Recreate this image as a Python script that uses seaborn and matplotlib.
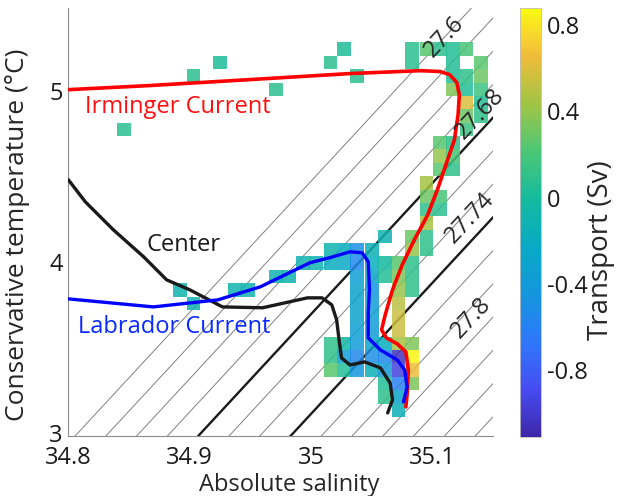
import numpy as np
import matplotlib
matplotlib.use("Agg")
import matplotlib.pyplot as plt
from matplotlib.colors import LinearSegmentedColormap, Normalize
from matplotlib.ticker import MultipleLocator, FixedLocator, FuncFormatter
from matplotlib.transforms import ScaledTranslation
import seaborn as sns

# ---------------- data ----------------
# transport per T-S bin (bin centres), Sv
cell_sal = [
    # scattered warm bins
    34.846, 34.903, 34.925, 34.971, 35.016, 35.027, 35.038,
    # r28 .. r15 (Irminger cluster)
    35.083, 35.095, 35.106, 35.117, 35.128,
    35.083, 35.117, 35.140,
    35.117, 35.128, 35.140,
    35.117, 35.128, 35.140,
    35.128, 35.140,
    35.128, 35.140,
    35.128,
    35.106, 35.117,
    35.106, 35.117,
    35.106, 35.117,
    35.095,
    35.095, 35.106,
    35.095, 35.106,
    35.095,
    # r14 .. r1
    35.061, 35.083, 35.095,
    35.016, 35.027, 35.038, 35.050, 35.083, 35.095,
    34.993, 35.004, 35.016, 35.027, 35.038, 35.050, 35.061, 35.072, 35.083,
    34.971, 34.982, 35.038, 35.050, 35.061, 35.072, 35.083,
    34.892, 34.937, 34.948, 35.038, 35.050, 35.072, 35.083,
    34.903, 35.038, 35.050, 35.072,
    35.038, 35.050, 35.072,
    35.038, 35.050, 35.072,
    35.016, 35.027, 35.038, 35.050, 35.061, 35.072, 35.083,
    35.016, 35.027, 35.038, 35.050, 35.061, 35.072, 35.083,
    35.016, 35.027, 35.038, 35.050, 35.061, 35.072, 35.083,
    35.061, 35.072, 35.083,
    35.061, 35.072,
    35.072,
]
cell_temp = [
    4.791, 5.103, 5.181, 5.025, 5.181, 5.260, 5.103,
    5.260, 5.260, 5.260, 5.260, 5.260,
    5.181, 5.181, 5.181,
    5.103, 5.103, 5.103,
    5.025, 5.025, 5.025,
    4.947, 4.947,
    4.869, 4.869,
    4.791,
    4.713, 4.713,
    4.635, 4.635,
    4.556, 4.556,
    4.478,
    4.400, 4.400,
    4.322, 4.322,
    4.244,
    4.166, 4.166, 4.166,
    4.088, 4.088, 4.088, 4.088, 4.088, 4.088,
    4.010, 4.010, 4.010, 4.010, 4.010, 4.010, 4.010, 4.010, 4.010,
    3.931, 3.931, 3.931, 3.931, 3.931, 3.931, 3.931,
    3.853, 3.853, 3.853, 3.853, 3.853, 3.853, 3.853,
    3.775, 3.775, 3.775, 3.775,
    3.697, 3.697, 3.697,
    3.619, 3.619, 3.619,
    3.541, 3.541, 3.541, 3.541, 3.541, 3.541, 3.541,
    3.463, 3.463, 3.463, 3.463, 3.463, 3.463, 3.463,
    3.385, 3.385, 3.385, 3.385, 3.385, 3.385, 3.385,
    3.306, 3.306, 3.306,
    3.228, 3.228,
    3.150,
]
cell_sv = [
    0.08, 0.08, 0.03, 0.08, 0.08, 0.03, 0.08,
    0.08, 0.25, 0.08, 0.05, 0.20,
    0.08, 0.05, 0.25,
    0.05, 0.10, 0.30,
    0.35, 0.05, 0.15,
    0.60, 0.05,
    0.30, 0.10,
    0.15,
    0.25, 0.10,
    0.40, 0.20,
    0.25, 0.10,
    0.45,
    0.30, 0.20,
    0.10, 0.08,
    0.45,
    -0.10, 0.30, 0.10,
    -0.10, -0.20, -0.50, -0.15, 0.40, 0.10,
    -0.10, -0.10, -0.20, -0.25, -0.55, -0.20, 0.00, 0.25, 0.10,
    -0.10, -0.10, -0.35, -0.30, 0.05, 0.35, 0.10,
    -0.10, -0.10, -0.10, -0.30, -0.45, 0.40, 0.10,
    -0.10, -0.30, -0.40, 0.50,
    -0.30, -0.35, 0.55,
    -0.35, -0.40, 0.55,
    0.10, -0.05, -0.40, -0.30, -0.20, 0.45, 0.35,
    0.10, -0.35, -0.55, -0.50, -0.55, -1.05, 0.85,
    0.25, 0.05, -0.45, -0.15, -0.40, -0.95, 0.65,
    0.05, -0.60, 0.35,
    0.10, -0.30,
    -0.15,
]
CELL_DS = 0.01128
CELL_DT = 0.0781

# mean profiles
irminger_sal = [34.800, 34.867, 34.950, 35.032, 35.090, 35.106, 35.114, 35.120, 35.122,
                35.121, 35.118, 35.111, 35.104, 35.096, 35.085, 35.075, 35.067, 35.061,
                35.058, 35.062, 35.071, 35.078, 35.080, 35.079, 35.078]
irminger_temp = [5.023, 5.047, 5.082, 5.117, 5.134, 5.129, 5.111, 5.064, 4.994,
                 4.877, 4.731, 4.585, 4.439, 4.292, 4.146, 4.000, 3.854, 3.708,
                 3.620, 3.573, 3.538, 3.491, 3.386, 3.240, 3.170]

labrador_sal = [34.800, 34.870, 34.923, 34.958, 34.999, 35.015, 35.032, 35.042, 35.047,
                35.048, 35.047, 35.047, 35.057, 35.071, 35.077, 35.079, 35.076]
labrador_temp = [3.801, 3.754, 3.795, 3.871, 4.012, 4.041, 4.076, 4.070, 4.018,
                 3.854, 3.719, 3.573, 3.503, 3.444, 3.386, 3.287, 3.199]

center_sal = [34.800, 34.814, 34.837, 34.862, 34.881, 34.900, 34.927, 34.960, 34.997,
              35.009, 35.017, 35.021, 35.023, 35.025, 35.032, 35.044, 35.057, 35.065,
              35.067, 35.063]
center_temp = [4.497, 4.368, 4.205, 4.047, 3.912, 3.854, 3.754, 3.749, 3.807,
               3.807, 3.766, 3.678, 3.561, 3.456, 3.415, 3.433, 3.398, 3.310,
               3.211, 3.135]

# density (sigma0) lines, linearised equation of state
SIG_REF, SAL_REF, TEMP_REF = 27.68, 34.907, 3.0
BETA, ALPHA = 0.789, 0.103
grey_levels = [27.60, 27.62, 27.64, 27.66, 27.70, 27.72, 27.76, 27.78, 27.80, 27.82, 27.84, 27.86]
black_levels = [27.68, 27.74]
level_labels = ["27.6", "27.68", "27.74", "27.8"]
label_sal = [35.110, 35.139, 35.131, 35.132]
label_temp = [5.333, 4.883, 4.275, 3.690]

cb_ticks = [-0.8, -0.4, 0, 0.4, 0.8]
SV_MIN, SV_MAX = -1.11, 0.88

# parula-like colormap
parula = LinearSegmentedColormap.from_list("parula", [
    (0.000, (0.2422, 0.1504, 0.6603)),
    (0.111, (0.2760, 0.3000, 0.9500)),
    (0.222, (0.1800, 0.4700, 0.9800)),
    (0.333, (0.0800, 0.5900, 0.8700)),
    (0.444, (0.0300, 0.6700, 0.7700)),
    (0.556, (0.0800, 0.7300, 0.6200)),
    (0.667, (0.3000, 0.7800, 0.4600)),
    (0.778, (0.6300, 0.7700, 0.2700)),
    (0.889, (0.9400, 0.7400, 0.2300)),
    (0.944, (0.9700, 0.8500, 0.1700)),
    (1.000, (0.9763, 0.9831, 0.0538)),
])

# ---------------- plot ----------------
sns.set_theme(style="white")
plt.rcParams["font.family"] = ["Open Sans", "DejaVu Sans"]
plt.rcParams["axes.unicode_minus"] = False
FS = 17

fig = plt.figure(figsize=(6.23, 4.96), dpi=100)
ax = fig.add_axes([68.3 / 623, 60 / 496, 425 / 623, 428 / 496])
cax = fig.add_axes([520 / 623, 59 / 496, 21 / 623, 429 / 496])

# density contours
sg, tg = np.meshgrid(np.linspace(34.75, 35.2, 300), np.linspace(2.9, 5.6, 300))
sigma = SIG_REF + BETA * (sg - SAL_REF) - ALPHA * (tg - TEMP_REF)
ax.contour(sg, tg, sigma, levels=grey_levels, colors="0.5", linewidths=0.7, zorder=1)
ax.contour(sg, tg, sigma, levels=black_levels, colors="k", linewidths=1.7, zorder=1)

# transport cells
norm = Normalize(SV_MIN, SV_MAX)
sal = np.array(cell_sal)
tmp = np.array(cell_temp)
ax.bar(sal, CELL_DT, width=CELL_DS, bottom=tmp - CELL_DT / 2,
       color=parula(norm(np.array(cell_sv))), linewidth=0, alpha=0.85, zorder=2)

# mean profiles
sns.lineplot(x=irminger_sal, y=irminger_temp, sort=False, estimator=None,
             color="#ff0000", linewidth=2.6, ax=ax, zorder=4)
sns.lineplot(x=labrador_sal, y=labrador_temp, sort=False, estimator=None,
             color="#0000ff", linewidth=2.4, ax=ax, zorder=4)
sns.lineplot(x=center_sal, y=center_temp, sort=False, estimator=None,
             color="k", linewidth=2.4, ax=ax, zorder=3)

ax.text(34.814, 4.924, "Irminger Current", color="#ff1010", fontsize=FS, va="center")
ax.text(34.895, 4.117, "Center", color="k", fontsize=FS, ha="center", va="center")
ax.text(34.808, 3.637, "Labrador Current", color="#0a2aff", fontsize=FS, va="center")

for lab, s, t in zip(level_labels, label_sal, label_temp):
    ax.text(s, t, lab, fontsize=FS, rotation=47, ha="center", va="center",
            rotation_mode="anchor", zorder=5)

ax.set_xlim(34.8, 35.15)
ax.set_ylim(3, 5.5)
ax.xaxis.set_major_locator(FixedLocator([34.8, 34.9, 35.0, 35.1]))
ax.xaxis.set_minor_locator(MultipleLocator(0.05))
ax.yaxis.set_major_locator(FixedLocator([3, 4, 5]))
ax.yaxis.set_minor_locator(MultipleLocator(0.5))
ax.xaxis.set_major_formatter(FuncFormatter(lambda v, p: f"{v:g}"))
ax.yaxis.set_major_formatter(FuncFormatter(lambda v, p: f"{v:g}"))
ax.tick_params(which="both", direction="in", colors="0.5", labelcolor="k",
               labelsize=FS, width=0.8)
ax.tick_params(which="major", length=5, pad=4)
ax.tick_params(axis="x", which="major", pad=7)
ax.tick_params(which="minor", length=3)
for side in ["top", "right"]:
    ax.spines[side].set_visible(False)
for side in ["left", "bottom"]:
    ax.spines[side].set_color("0.55")
    ax.spines[side].set_linewidth(0.8)
ax.set_xlabel("")
ax.set_ylabel("")
# nudge the y tick labels up a little, like the original
for lbl in ax.get_yticklabels():
    lbl.set_transform(lbl.get_transform() + ScaledTranslation(0, 3 / 100, fig.dpi_scale_trans))

fig.text(289 / 623, 1 - 485 / 496, "Absolute salinity", fontsize=FS, ha="center", va="center")
fig.text(18 / 623, 1 - 235 / 496, "Conservative temperature (°C)", fontsize=19,
         rotation=90, ha="center", va="center")

# colour bar
sm = plt.cm.ScalarMappable(norm=norm, cmap=parula)
cb = fig.colorbar(sm, cax=cax)
cb.set_ticks(cb_ticks)
cb.ax.yaxis.set_major_formatter(FuncFormatter(lambda v, p: f"{v:g}"))
cb.ax.yaxis.set_minor_locator(MultipleLocator(0.2))
cb.ax.tick_params(which="both", direction="in", colors="0.4", labelcolor="k",
                  labelsize=FS, width=0.8, pad=4)
cb.ax.tick_params(which="major", length=5)
cb.ax.tick_params(which="minor", length=3)
cb.outline.set_edgecolor("0.75")
cb.outline.set_linewidth(0.6)
fig.text(601 / 623, 1 - 250 / 496, "Transport (Sv)", fontsize=20, rotation=90,
         ha="center", va="center")

fig.savefig("out.png", dpi=100)
